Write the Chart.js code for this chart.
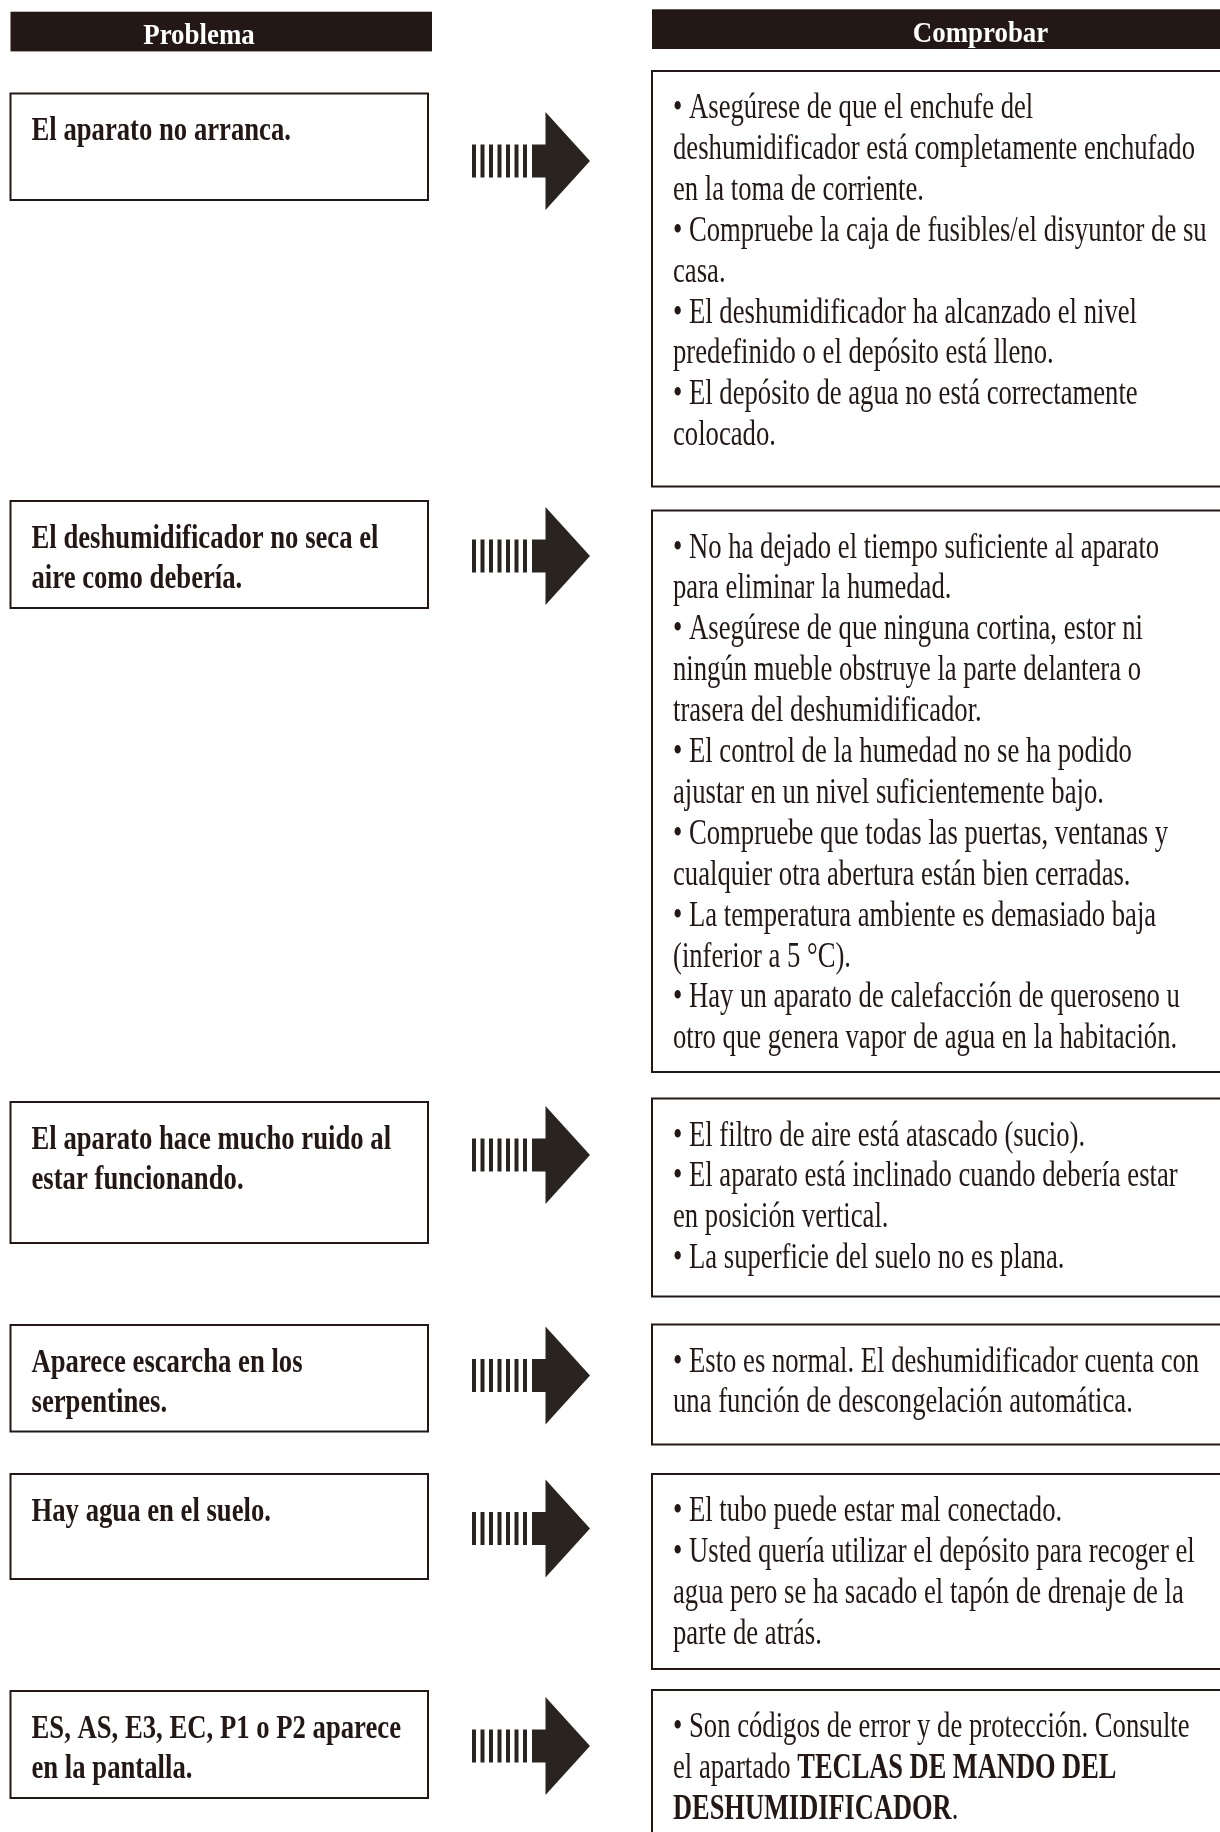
<!DOCTYPE html>
<html lang="es">
<head>
<meta charset="utf-8">
<title>Problema / Comprobar</title>
<script src="https://cdn.jsdelivr.net/npm/chart.js@4.4.1/dist/chart.umd.min.js"></script>
<style>
  html, body { margin: 0; padding: 0; background: #ffffff; }
  #wrap { width: 1220px; height: 1832px; position: relative; }
  canvas { display: block; }
</style>
</head>
<body>
<div id="wrap"><canvas id="c" width="1220" height="1832"></canvas></div>
<script>
// ---------- content ----------
const headerLabels = ["Problema", "Comprobar"];

const problems = [
  ["El aparato no arranca."],
  ["El deshumidificador no seca el", "aire como debería."],
  ["El aparato hace mucho ruido al", "estar funcionando."],
  ["Aparece escarcha en los", "serpentines."],
  ["Hay agua en el suelo."],
  ["ES, AS, E3, EC, P1 o P2 aparece", "en la pantalla."]
];

const checks1 = [
  "• Asegúrese de que el enchufe del",
  "deshumidificador está completamente enchufado",
  "en la toma de corriente.",
  "• Compruebe la caja de fusibles/el disyuntor de su",
  "casa.",
  "• El deshumidificador ha alcanzado el nivel",
  "predefinido o el depósito está lleno.",
  "• El depósito de agua no está correctamente",
  "colocado."
];
const checks2 = [
  "• No ha dejado el tiempo suficiente al aparato",
  "para eliminar la humedad.",
  "• Asegúrese de que ninguna cortina, estor ni",
  "ningún mueble obstruye la parte delantera o",
  "trasera del deshumidificador.",
  "• El control de la humedad no se ha podido",
  "ajustar en un nivel suficientemente bajo.",
  "• Compruebe que todas las puertas, ventanas y",
  "cualquier otra abertura están bien cerradas.",
  "• La temperatura ambiente es demasiado baja",
  "(inferior a 5 °C).",
  "• Hay un aparato de calefacción de queroseno u",
  "otro que genera vapor de agua en la habitación."
];
const checks3 = [
  "• El filtro de aire está atascado (sucio).",
  "• El aparato está inclinado cuando debería estar",
  "en posición vertical.",
  "• La superficie del suelo no es plana."
];
const checks4 = [
  "• Esto es normal. El deshumidificador cuenta con",
  "una función de descongelación automática."
];
const checks5 = [
  "• El tubo puede estar mal conectado.",
  "• Usted quería utilizar el depósito para recoger el",
  "agua pero se ha sacado el tapón de drenaje de la",
  "parte de atrás."
];
const checks6 = [
  "• Son códigos de error y de protección. Consulte",
  "el apartado **TECLAS DE MANDO DEL**",
  "**DESHUMIDIFICADOR**."
];
const checks = [checks1, checks2, checks3, checks4, checks5, checks6];

// ---------- layout (page units) ----------
const headerBoxes = [ {x0: 10.5, x1: 432, y0: 11.7, y1: 51.4, tx: 199, ty: 44},
                      {x0: 652, x1: 1230, y0: 9.3, y1: 49, tx: 980.5, ty: 41.5} ];
const leftX = [10.5, 428];
const leftTop    = [93.5, 501, 1102, 1325, 1474, 1691];
const leftBottom = [200, 608, 1243, 1431.5, 1579, 1798];
const rightX = [652, 1240];
const rightTop    = [71, 510.5, 1098.5, 1324.5, 1474, 1690];
const rightBottom = [486.5, 1072, 1296.5, 1444.5, 1669, 1860];
const arrowY = [161, 556, 1155, 1375.5, 1528.5, 1746];
const leftTextX = 31.5, rightTextX = 673;
const leftBaseOff = 46.5, rightBaseOff = 47, lineGap = 40.9;

const INK = "#231815";
const SERIF = '"Liberation Serif", "Times New Roman", serif';
const REG = "35px " + SERIF;
const REG_B = "bold 35px " + SERIF;
const PROB = "bold 33px " + SERIF;
const HEAD = "bold 30px " + SERIF;

const tablePlugin = {
  id: "troubleTable",
  afterDraw(chart) {
    const ctx = chart.ctx;
    const sx = chart.scales.x, sy = chart.scales.y;
    const X = v => sx.getPixelForValue(v);
    const Y = v => sy.getPixelForValue(v);

    // condensing factors calibrated from the reference line widths
    ctx.save();
    ctx.font = REG;
    const kReg = 522 / ctx.measureText("deshumidificador está completamente enchufado").width;
    ctx.font = REG_B;
    const kRegBold = 319 / ctx.measureText("TECLAS DE MANDO DEL").width;
    ctx.font = PROB;
    const kBold = 347 / ctx.measureText("El deshumidificador no seca el").width;
    ctx.font = HEAD;
    const kHead = 135.5 / ctx.measureText("Comprobar").width;
    ctx.restore();

    function drawText(str, x, y, font, k, color, align) {
      ctx.save();
      ctx.font = font;
      ctx.fillStyle = color;
      ctx.textBaseline = "alphabetic";
      const w = ctx.measureText(str).width * k;
      let x0 = x;
      if (align === "center") x0 = x - w / 2;
      ctx.translate(x0, y);
      ctx.scale(k, 1);
      ctx.fillText(str, 0, 0);
      ctx.restore();
      return w;
    }

    function drawMixed(line, x, y) {
      const parts = line.split("**");
      let cx = x;
      parts.forEach((p, i) => {
        if (!p) return;
        const bold = i % 2 === 1;
        cx += drawText(p, cx, y, bold ? REG_B : REG, bold ? kRegBold : kReg, INK, "left");
      });
    }

    function box(x0, y0, x1, y1) {
      ctx.save();
      ctx.strokeStyle = INK;
      ctx.lineWidth = 2;
      ctx.strokeRect(X(x0), Y(y0), X(x1) - X(x0), Y(y1) - Y(y0));
      ctx.restore();
    }

    function arrow(cy) {
      ctx.save();
      ctx.fillStyle = "#2a2420";
      const bh = 33;
      for (let i = 0; i < 7; i++) {
        const xs = 472 + i * 8.5;
        ctx.fillRect(X(xs), Y(cy - bh / 2), X(xs + 4) - X(xs), Y(cy + bh / 2) - Y(cy - bh / 2));
      }
      ctx.fillRect(X(532), Y(cy - bh / 2), X(546.5) - X(532), Y(cy + bh / 2) - Y(cy - bh / 2));
      ctx.beginPath();
      ctx.moveTo(X(545.5), Y(cy - 49));
      ctx.lineTo(X(590), Y(cy));
      ctx.lineTo(X(545.5), Y(cy + 49));
      ctx.closePath();
      ctx.fill();
      ctx.restore();
    }

    // headers
    headerBoxes.forEach((h, i) => {
      ctx.save();
      ctx.fillStyle = INK;
      ctx.fillRect(X(h.x0), Y(h.y0), X(h.x1) - X(h.x0), Y(h.y1) - Y(h.y0));
      ctx.restore();
      drawText(headerLabels[i], X(h.tx), Y(h.ty), HEAD, kHead, "#ffffff", "center");
    });

    // rows
    problems.forEach((lines, r) => {
      box(leftX[0], leftTop[r], leftX[1], leftBottom[r]);
      lines.forEach((ln, j) => {
        drawText(ln, X(leftTextX), Y(leftTop[r] + leftBaseOff + j * lineGap), PROB, kBold, INK, "left");
      });
      arrow(arrowY[r]);
      box(rightX[0], rightTop[r], rightX[1], rightBottom[r]);
      checks[r].forEach((ln, j) => {
        drawMixed(ln, X(rightTextX), Y(rightTop[r] + rightBaseOff + j * lineGap));
      });
    });
  }
};

function build() {
  new Chart(document.getElementById("c"), {
    type: "scatter",
    data: { datasets: [{ data: [], showLine: false }] },
    options: {
      responsive: false,
      animation: false,
      devicePixelRatio: 1,
      layout: { padding: 0 },
      events: [],
      plugins: { legend: { display: false }, tooltip: { enabled: false }, title: { display: false } },
      scales: {
        x: { type: "linear", min: 0, max: 1220, display: false },
        y: { type: "linear", min: 0, max: 1832, reverse: true, display: false }
      }
    },
    plugins: [tablePlugin]
  });
}
if (document.fonts && document.fonts.ready) { document.fonts.ready.then(build); } else { build(); }
</script>
</body>
</html>
